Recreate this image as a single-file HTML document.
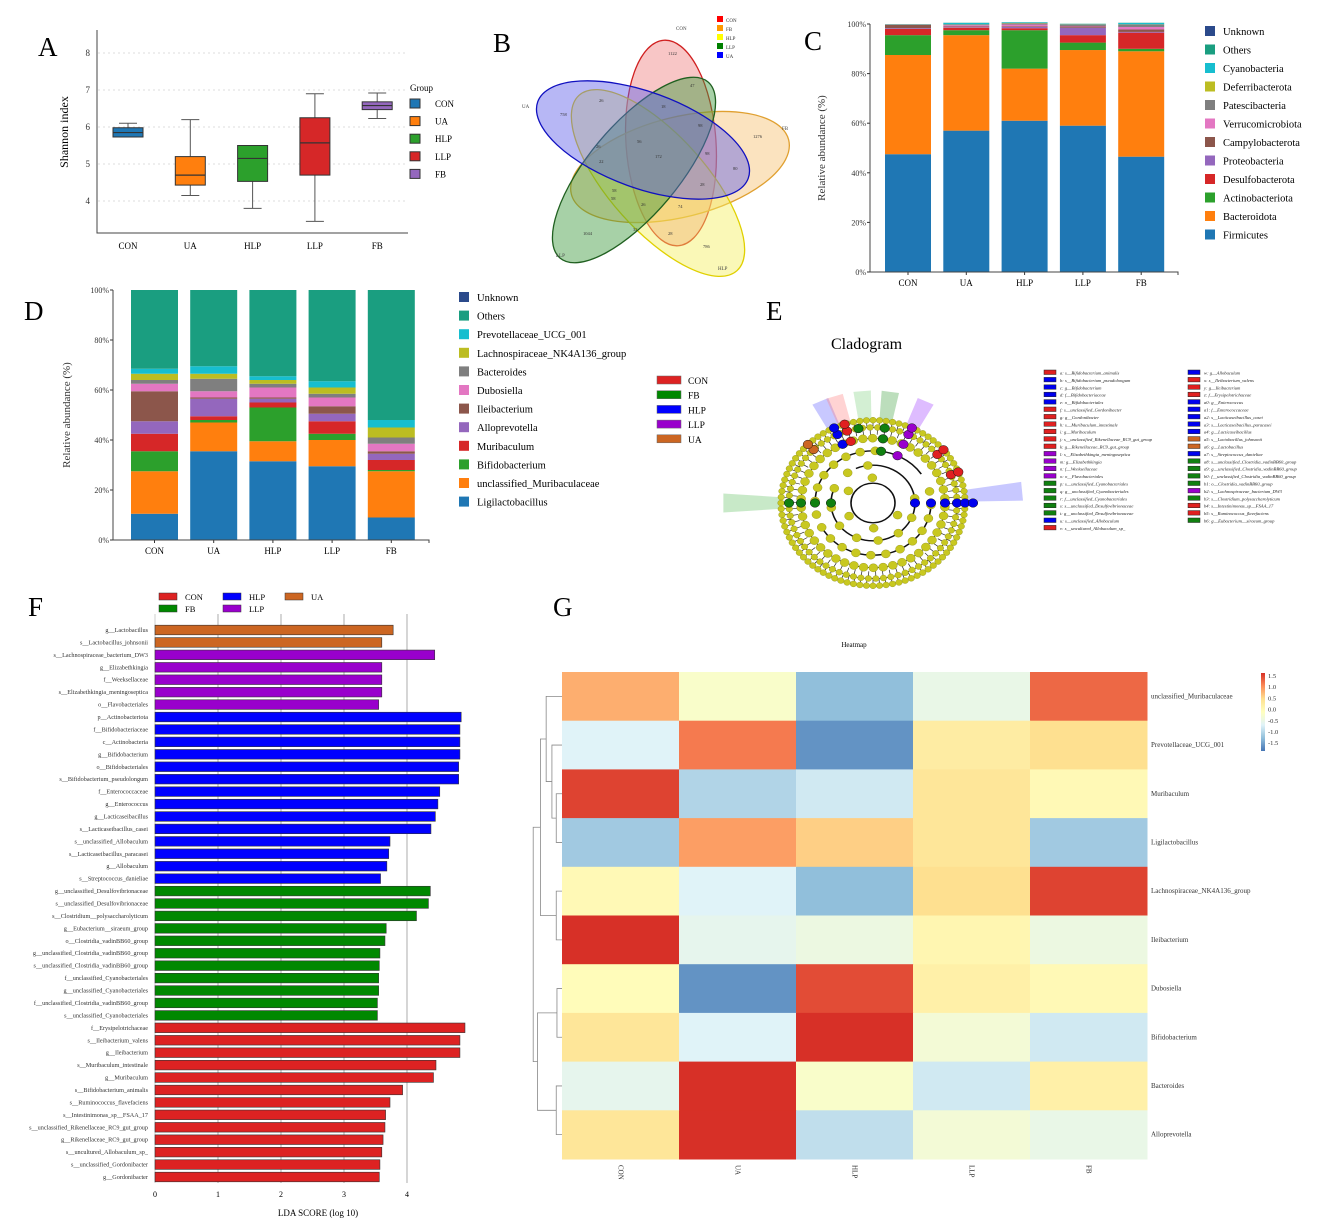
<!DOCTYPE html>
<html><head><meta charset="utf-8">
<style>
html,body{margin:0;padding:0;background:#fff;}
svg{display:block;font-family:"Liberation Serif",serif;}
</style></head>
<body>
<svg id="fig" width="1325" height="1229" viewBox="0 0 1325 1229" xmlns="http://www.w3.org/2000/svg">
<rect width="1325" height="1229" fill="#fff"/>
<g font-size="27" fill="#000">
<text x="38" y="56">A</text>
<text x="493" y="52">B</text>
<text x="804" y="50">C</text>
<text x="24" y="320">D</text>
<text x="766" y="320">E</text>
<text x="28" y="616">F</text>
<text x="553" y="616">G</text>
</g>
<g id="pA"></g>
<g id="pB"></g>
<g id="pC"></g>
<g id="pD"></g>
<g id="pE"></g>
<g id="pF"></g>
<g id="pG"></g>
</svg>
<script>
const NS="http://www.w3.org/2000/svg";
function mk(parent,tag,attrs,txt){const e=document.createElementNS(NS,tag);for(const k in attrs)e.setAttribute(k,attrs[k]);if(txt!==undefined)e.textContent=txt;parent.appendChild(e);return e;}

/* ---------- Panel A data ---------- */
const aGroups=["CON","UA","HLP","LLP","FB"];
const aMin=[5.73,4.15,3.8,3.45,6.23];
const aQ1=[5.73,4.43,4.53,4.7,6.47];
const aMed=[5.85,4.7,5.15,5.57,6.58];
const aQ3=[5.98,5.2,5.5,6.25,6.68];
const aMax=[6.1,6.2,5.5,6.9,6.92];
const aTicks=[4,5,6,7,8];
const gColors=["#1f77b4","#ff7f0e","#2ca02c","#d62728","#9467bd"];
(function(){
 const g=document.getElementById("pA");
 const y=v=>201-(v-4)*37, x=i=>128+i*62.3;
 aTicks.forEach(t=>{
  const l=mk(g,"line",{x1:98,x2:408,y1:y(t),y2:y(t),stroke:"#ddd","stroke-dasharray":"2,3"});
  
  
  const tt=mk(g,"text",{x:90,y:y(t)+3,"font-size":9,"text-anchor":"end",fill:"#333"},t);
  
  
 });
 const ax=mk(g,"path",{d:"M97,30 V233 H408",fill:"none",stroke:"#444","stroke-width":1});
 
 
 const yl=mk(g,"text",{transform:"translate(68,132) rotate(-90)","text-anchor":"middle","font-size":12},"Shannon index");
 
 
 aGroups.forEach((n,i)=>{
  const cx=x(i);
  const w=mk(g,"line",{x1:cx,x2:cx,y1:y(aMax[i]),y2:y(aMin[i]),stroke:"#555"});
  
  
  [aMax[i],aMin[i]].forEach(v=>{const c=mk(g,"line",{x1:cx-9,x2:cx+9,y1:y(v),y2:y(v),stroke:"#555"});
   
   });
  const b=mk(g,"rect",{x:cx-15,y:y(aQ3[i]),width:30,height:y(aQ1[i])-y(aQ3[i]),fill:gColors[i],stroke:"#333"});
  
  
  const m=mk(g,"line",{x1:cx-15,x2:cx+15,y1:y(aMed[i]),y2:y(aMed[i]),stroke:"#333","stroke-width":1.2});
  
  
  const tl=mk(g,"text",{x:cx,y:249,"text-anchor":"middle","font-size":9},n);
  
  
  const ls=mk(g,"rect",{x:410,y:99+i*17.6,width:10,height:9,fill:gColors[i],stroke:"#333"});
  
  
  const lt=mk(g,"text",{x:435,y:107+i*17.6,"font-size":9},n);
  
  
 });
 const gt=mk(g,"text",{x:410,y:91,"font-size":9},"Group");
 
 
})();

/* ---------- Panel B venn ---------- */
const vNames=["CON","FB","HLP","LLP","UA"];
const vColors=["#ff0000","#ff9900","#ffff00","#008000","#0000ff"];
const vUnique=[1122,1276,786,1044,758];
(function(){
 const g=document.getElementById("pB");
 const ells=[
  {cx:671,cy:143,rx:45,ry:103,rot:-4,c:"#f08080",s:"#d02020",i:0},
  {cx:680,cy:167,rx:112,ry:50,rot:-14,c:"#f6c070",s:"#e0a030",i:1},
  {cx:658,cy:183,rx:118,ry:48,rot:48,c:"#f4f060",s:"#e0d000",i:2},
  {cx:634,cy:170,rx:45,ry:115,rot:40,c:"#3c9a3c",s:"#206020",i:3},
  {cx:643,cy:140,rx:112,ry:48,rot:20,c:"#6060e8",s:"#1010c0",i:4}];
 ells.forEach(e=>{
  const el=mk(g,"ellipse",{cx:e.cx,cy:e.cy,rx:e.rx,ry:e.ry,transform:`rotate(${e.rot} ${e.cx} ${e.cy})`,fill:e.c,"fill-opacity":0.45,stroke:e.s,"stroke-width":1.3});
  
  
 });
 const lab=[["CON",676,30],["FB",782,130],["HLP",718,270],["LLP",556,257],["UA",522,108]];
 lab.forEach(l=>{const t=mk(g,"text",{x:l[1],y:l[2],"font-size":5,fill:"#444"},l[0]);
  
  });
 const nums=[[vUnique[0],668,55],[vUnique[1],753,138],[vUnige=vUnique[2],703,248],[vUnique[3],583,235],[vUnique[4],560,116],[172,655,158],[26,599,102],[47,690,87],[18,661,108],[98,698,127],[56,637,143],[98,705,155],[28,700,186],[80,733,170],[58,611,200],[58,612,192],[26,641,206],[74,678,208],[28,668,235],[32,633,231],[22,599,163],[26,596,148]];
 nums.forEach(n=>{const t=mk(g,"text",{x:n[1],y:n[2],"font-size":4.5,fill:"#333"},n[0]);
  
  });
 vNames.forEach((n,i)=>{
  const r=mk(g,"rect",{x:717,y:16+i*9,width:6,height:6,fill:vColors[i]});
  
  
  const t=mk(g,"text",{x:726,y:22+i*9,"font-size":5,fill:"#333"},n);
  
  
 });
})();

/* ---------- Panel C data ---------- */
const cSamples=["CON","UA","HLP","LLP","FB"];
const cTaxa=["Firmicutes","Bacteroidota","Actinobacteriota","Desulfobacterota","Proteobacteria","Campylobacterota","Verrucomicrobiota","Patescibacteria","Deferribacterota","Cyanobacteria","Others","Unknown"];
const cColors=["#1f77b4","#ff7f0e","#2ca02c","#d62728","#9467bd","#8c564b","#e377c2","#7f7f7f","#bcbd22","#17becf","#1a9e80","#2b4a8b"];
const cFirm=[47.5,57,61,59,46.5];
const cBact=[40,38.5,21,30.5,42.5];
const cActi=[8,2,15.5,3,1];
const cDesu=[2.5,1,0.8,3,6.5];
const cProt=[0.3,0.2,0.5,3,0.3];
const cCamp=[1.3,0.3,0.3,0.5,1];
const cVerr=[0.1,0.5,0.7,0.2,1];
const cPate=[0.1,0.3,0.5,0.6,1];
const cDefe=[0.05,0.1,0.1,0.1,0.1];
const cCyan=[0.05,0.5,0.2,0.1,0.5];
const cOthe=[0.1,0.1,0.1,0.1,0.1];
const cUnkn=[0,0,0,0,0];
const cTicks=[0,20,40,60,80,100];
/* ---------- Panel D data ---------- */
const dSamples=["CON","UA","HLP","LLP","FB"];
const dTaxa=["Ligilactobacillus","unclassified_Muribaculaceae","Bifidobacterium","Muribaculum","Alloprevotella","Ileibacterium","Dubosiella","Bacteroides","Lachnospiraceae_NK4A136_group","Prevotellaceae_UCG_001","Others","Unknown"];
const dLigi=[10.5,35.5,31.5,29.5,9];
const dUncM=[17,11.5,8,10.5,18.5];
const dBifi=[8,1,13.5,2.5,0.5];
const dMuri=[7,1.5,2,5,4];
const dAllo=[5,7,1.5,3,2.5];
const dIlei=[12,0.5,0.5,3,1];
const dDubo=[3,2.5,4,3.5,3];
const dBact=[1.5,5,1.5,1.5,2.5];
const dLach=[2.5,2,1.5,2.5,4];
const dPrev=[2,3,1.5,2.5,3];
const dOthe=[31.5,30.5,34.5,36.5,52];
const dUnkn=[0,0,0,0,0];

function stacked(gid,samples,taxa,series,opt){
 const g=document.getElementById(gid);
 const y=v=>opt.y0-v*(opt.y0-opt.y100)/100;
 cTicks.forEach(t=>{
  const tk=mk(g,"line",{x1:opt.ax-3,x2:opt.ax,y1:y(t),y2:y(t),stroke:"#333"});
  
  
  const tl=mk(g,"text",{x:opt.ax-4,y:y(t)+3,"text-anchor":"end","font-size":8,fill:"#333"},t+"%");
  
  
 });
 samples.forEach((s,i)=>{
  let acc=0;const x=opt.x0+i*opt.step;
  series.forEach((arr,k)=>{
   const v=arr[i];
   const r=mk(g,"rect",{x:x,y:y(acc+v),width:opt.bw,height:Math.max(0,y(acc)-y(acc+v)),fill:cColors[k]});
   
   
   acc+=v;
  });
  const tl=mk(g,"text",{x:x+opt.bw/2,y:opt.y0+14,"text-anchor":"middle","font-size":9},s);
  
  
  const tm=mk(g,"line",{x1:x+opt.bw/2,x2:x+opt.bw/2,y1:opt.y0,y2:opt.y0+3,stroke:"#333"});
  
  
 });
 const ax=mk(g,"path",{d:`M${opt.ax},${opt.y100} V${opt.y0} H${opt.axEnd} v3`,fill:"none",stroke:"#444"});
 
 
 const yt=mk(g,"text",{transform:`translate(${opt.ytx},${(opt.y0+opt.y100)/2}) rotate(-90)`,"text-anchor":"middle","font-size":11,fill:"#333"},"Relative abundance (%)");
 
 
 for(let k=taxa.length-1;k>=0;k--){
  const row=taxa.length-1-k;
  const sw=mk(g,"rect",{x:opt.lx,y:opt.ly+row*opt.lstep-5,width:10,height:10,fill:cColors[k]});
  
  
  const lt=mk(g,"text",{x:opt.lx+18,y:opt.ly+row*opt.lstep+4,"font-size":opt.lfs},taxa[k]);
  
  
 }
}
stacked("pC",cSamples,cTaxa,[cFirm,cBact,cActi,cDesu,cProt,cCamp,cVerr,cPate,cDefe,cCyan,cOthe,cUnkn],
 {y0:272,y100:24,x0:885,step:58.3,bw:46,ax:870,axEnd:1178,ytx:825,lx:1205,ly:31,lstep:18.5,lfs:10.5});
stacked("pD",dSamples,dTaxa,[dLigi,dUncM,dBifi,dMuri,dAllo,dIlei,dDubo,dBact,dLach,dPrev,dOthe,dUnkn],
 {y0:540,y100:290,x0:131,step:59.2,bw:47,ax:113,axEnd:429,ytx:70,lx:459,ly:297,lstep:18.6,lfs:10.5});
(function(){
 const g=document.getElementById("pD");
 const gn=["CON","FB","HLP","LLP","UA"], gc=["#dd2222","#008800","#0000ff","#9900cc","#cc6622"];
 gn.forEach((n,i)=>{
  const r=mk(g,"rect",{x:657,y:376+i*14.7,width:24,height:8,fill:gc[i],stroke:"#666","stroke-width":0.5});
  
  
  const t=mk(g,"text",{x:688,y:384+i*14.7,"font-size":9.5},n);
  
  
 });
})();

/* ---------- Panel E cladogram ---------- */
const eLeft=["a: s__Bifidobacterium_animalis","b: s__Bifidobacterium_pseudolongum","c: g__Bifidobacterium","d: f__Bifidobacteriaceae","e: o__Bifidobacteriales","f: s__unclassified_Gordonibacter","g: g__Gordonibacter","h: s__Muribaculum_intestinale","i: g__Muribaculum","j: s__unclassified_Rikenellaceae_RC9_gut_group","k: g__Rikenellaceae_RC9_gut_group","l: s__Elizabethkingia_meningoseptica","m: g__Elizabethkingia","n: f__Weeksellaceae","o: o__Flavobacteriales","p: s__unclassified_Cyanobacteriales","q: g__unclassified_Cyanobacteriales","r: f__unclassified_Cyanobacteriales","s: s__unclassified_Desulfovibrionaceae","t: g__unclassified_Desulfovibrionaceae","u: s__unclassified_Allobaculum","v: s__uncultured_Allobaculum_sp_"];
const eLeftC=["r","b","b","b","b","r","r","r","r","r","r","p","p","p","p","g","g","g","g","g","b","r"];
const eRight=["w: g__Allobaculum","x: s__Ileibacterium_valens","y: g__Ileibacterium","z: f__Erysipelotrichaceae","a0: g__Enterococcus","a1: f__Enterococcaceae","a2: s__Lacticaseibacillus_casei","a3: s__Lacticaseibacillus_paracasei","a4: g__Lacticaseibacillus","a5: s__Lactobacillus_johnsonii","a6: g__Lactobacillus","a7: s__Streptococcus_danieliae","a8: s__unclassified_Clostridia_vadinBB60_group","a9: g__unclassified_Clostridia_vadinBB60_group","b0: f__unclassified_Clostridia_vadinBB60_group","b1: o__Clostridia_vadinBB60_group","b2: s__Lachnospiraceae_bacterium_DW3","b3: s__Clostridium_polysaccharolyticum","b4: s__Intestinimonas_sp__FSAA_17","b5: s__Ruminococcus_flavefaciens","b6: g__Eubacterium__siraeum_group"];
const eRightC=["b","r","r","r","b","b","b","b","b","o","o","b","g","g","g","g","p","g","r","r","g"];
(function(){
 const g=document.getElementById("pE");
 const cm={r:"#e02020",b:"#0000ee",g:"#108010",p:"#9900cc",o:"#cc6622"};
 const t=mk(g,"text",{x:831,y:349,"font-size":16},"Cladogram");
 
 
 const cx=873,cy=503;
 const cl=mk(g,"g",{transform:`translate(${cx},${cy}) scale(1,0.9)`});
 
 
 // highlight sectors
 const hs=[[-115,"#6060ff"],[-108,"#ff8080"],[-95,"#80d080"],[-82,"#40a040"],[-65,"#a040ff"],[-5,"#6060ff"],[180,"#60c060"]];
 hs.forEach(h=>{const a=h[0]*Math.PI/180,w=0.07;
  const r1=92,r2=h[0]==-5||h[0]==180?150:125;
  const p=`M${r1*Math.cos(a-w)},${r1*Math.sin(a-w)} L${r2*Math.cos(a-w)},${r2*Math.sin(a-w)} L${r2*Math.cos(a+w)},${r2*Math.sin(a+w)} L${r1*Math.cos(a+w)},${r1*Math.sin(a+w)}Z`;
  const s=mk(cl,"path",{d:p,fill:h[1],"fill-opacity":0.35});
  
  });
 [22,42,58,72,84].forEach((r,i)=>{
  const c=mk(cl,"circle",{cx:0,cy:0,r:r,fill:"none",stroke:"#111","stroke-width":i<3?1.6:0.8,"stroke-dasharray":i<3?"150,30":"none"});
  
  });
 const rings=[[92,88],[84,70],[72,46],[58,24],[42,12],[28,6]];
 rings.forEach((rg,ri)=>{
  for(let k=0;k<rg[1];k++){
   const a=(k/rg[1])*2*Math.PI+ri*0.1;
   if(ri>=3 && Math.sin(a)<-0.3 && Math.cos(a)>0.2) continue;
   const x=rg[0]*Math.cos(a),y=rg[0]*Math.sin(a);
   if(ri<2){const ln=mk(cl,"line",{x1:x,y1:y,x2:(rg[0]-8)*Math.cos(a),y2:(rg[0]-8)*Math.sin(a),stroke:"#222","stroke-width":0.7});
    
    }
   const n=mk(cl,"circle",{cx:x,cy:y,r:ri<2?3.3:4.5,fill:"#c8c820",stroke:"#8a8a10","stroke-width":0.4});
   
   
  }});
 const hl=[[0,[42,58,72,84,92,100],"#0000ee"],[180,[42,58,72,84],"#108010"],[-115,[72,84,92],"#0000ee"],[-108,[72,84,92],"#e02020"],[-82,[58,72,84],"#108010"],[-65,[58,72,84,92],"#9900cc"],[-40,[84,92],"#e02020"],[-22,[84,92],"#e02020"],[-135,[84,92],"#cc6622"],[-100,[84],"#108010"]];
 hl.forEach(h=>{const a=h[0]*Math.PI/180;h[1].forEach(r=>{
  const n=mk(cl,"circle",{cx:r*Math.cos(a),cy:r*Math.sin(a),r:4.8,fill:h[2],stroke:"#111","stroke-width":0.5});
  
  });});
 function leg(list,cols,x0){
  list.forEach((s,i)=>{
   const r=mk(g,"rect",{x:x0,y:370+i*7.4,width:12,height:4.5,fill:cm[cols[i]],stroke:"#222","stroke-width":0.5});
   
   
   const tx=mk(g,"text",{x:x0+16,y:374.5+i*7.4,"font-size":4.6,"font-style":"italic",fill:"#222"},s);
   
   
  });}
 leg(eLeft,eLeftC,1044); leg(eRight,eRightC,1188);
})();

/* ---------- Panel F LDA ---------- */
const fNames=["g__Lactobacillus","s__Lactobacillus_johnsonii","s__Lachnospiraceae_bacterium_DW3","g__Elizabethkingia","f__Weeksellaceae","s__Elizabethkingia_meningoseptica","o__Flavobacteriales","p__Actinobacteriota","f__Bifidobacteriaceae","c__Actinobacteria","g__Bifidobacterium","o__Bifidobacteriales","s__Bifidobacterium_pseudolongum","f__Enterococcaceae","g__Enterococcus","g__Lacticaseibacillus","s__Lacticaseibacillus_casei","s__unclassified_Allobaculum","s__Lacticaseibacillus_paracasei","g__Allobaculum","s__Streptococcus_danieliae","g__unclassified_Desulfovibrionaceae","s__unclassified_Desulfovibrionaceae","s__Clostridium__polysaccharolyticum","g__Eubacterium__siraeum_group","o__Clostridia_vadinBB60_group","g__unclassified_Clostridia_vadinBB60_group","s__unclassified_Clostridia_vadinBB60_group","f__unclassified_Cyanobacteriales","g__unclassified_Cyanobacteriales","f__unclassified_Clostridia_vadinBB60_group","s__unclassified_Cyanobacteriales","f__Erysipelotrichaceae","s__Ileibacterium_valens","g__Ileibacterium","s__Muribaculum_intestinale","g__Muribaculum","s__Bifidobacterium_animalis","s__Ruminococcus_flavefaciens","s__Intestinimonas_sp__FSAA_17","s__unclassified_Rikenellaceae_RC9_gut_group","g__Rikenellaceae_RC9_gut_group","s__uncultured_Allobaculum_sp_","s__unclassified_Gordonibacter","g__Gordonibacter"];
const fScores=[3.78,3.6,4.44,3.6,3.6,3.6,3.55,4.86,4.84,4.84,4.84,4.82,4.82,4.52,4.49,4.45,4.38,3.73,3.71,3.68,3.58,4.37,4.34,4.15,3.67,3.65,3.57,3.56,3.55,3.55,3.53,3.53,4.92,4.84,4.84,4.46,4.42,3.93,3.73,3.66,3.65,3.62,3.6,3.57,3.56];
const fGroups=["UA","UA","LLP","LLP","LLP","LLP","LLP","HLP","HLP","HLP","HLP","HLP","HLP","HLP","HLP","HLP","HLP","HLP","HLP","HLP","HLP","FB","FB","FB","FB","FB","FB","FB","FB","FB","FB","FB","CON","CON","CON","CON","CON","CON","CON","CON","CON","CON","CON","CON","CON"];
const fTicks=[0,1,2,3,4];
(function(){
 const g=document.getElementById("pF");
 const gc={CON:"#dd2222",FB:"#008800",HLP:"#0000ff",LLP:"#9900cc",UA:"#cc6622"};
 const x=v=>155+v*63;
 const y0=630,step=(1177-630)/(fNames.length-1);
 fTicks.forEach(t=>{
  const l=mk(g,"line",{x1:x(t),x2:x(t),y1:614,y2:1183,stroke:t?"#888":"#bbb","stroke-width":0.7});
  
  
  const tl=mk(g,"text",{x:x(t),y:1197,"text-anchor":"middle","font-size":8},t);
  
  
 });
 fNames.forEach((n,i)=>{
  const cy=y0+i*step;
  const b=mk(g,"rect",{x:x(0),y:cy-4.8,width:x(fScores[i])-x(0),height:9.6,fill:gc[fGroups[i]],stroke:"#333","stroke-width":0.6});
  
  
  const t=mk(g,"text",{x:148,y:cy+2,"text-anchor":"end","font-size":6.2,fill:"#333"},n);
  
  
 });
 const at=mk(g,"text",{x:318,y:1216,"text-anchor":"middle","font-size":9},"LDA SCORE (log 10)");
 
 
 const lg=[["CON",159,597],["FB",159,609],["HLP",223,597],["LLP",223,609],["UA",285,597]];
 lg.forEach(l=>{
  const r=mk(g,"rect",{x:l[1],y:l[2]-4,width:18,height:7,fill:gc[l[0]],stroke:"#333","stroke-width":0.5});
  
  
  const t=mk(g,"text",{x:l[1]+26,y:l[2]+3,"font-size":8.5},l[0]);
  
  
 });
})();

/* ---------- Panel G heatmap ---------- */
const hRows=["unclassified_Muribaculaceae","Prevotellaceae_UCG_001","Muribaculum","Ligilactobacillus","Lachnospiraceae_NK4A136_group","Ileibacterium","Dubosiella","Bifidobacterium","Bacteroides","Alloprevotella"];
const hCols=["CON","UA","HLP","LLP","FB"];
const hZ=[[0.8,-0.1,-1.0,-0.35,1.2],[-0.5,1.1,-1.3,0.3,0.5],[1.4,-0.8,-0.6,0.4,0.1],[-0.9,0.9,0.6,0.4,-0.9],[0.1,-0.5,-1.0,0.5,1.4],[1.7,-0.4,-0.3,0.15,-0.3],[0.05,-1.3,1.35,0.25,0.1],[0.4,-0.5,1.5,-0.2,-0.6],[-0.4,1.7,-0.1,-0.6,0.25],[0.4,1.55,-0.7,-0.2,-0.35]];
const hScaleTicks=[1.5,1.0,0.5,0.0,-0.5,-1.0,-1.5];
const hTree=[40,[30,[22,0,[14,1,[8,2,3]]],[8,4,5]],[34,[7,6,7],[8,8,9]]];
(function(){
 const g=document.getElementById("pG");
 const stops=[[-1.5,[69,117,180]],[-1,[145,191,219]],[-0.5,[224,243,248]],[0,[255,255,191]],[0.5,[254,224,144]],[1,[252,141,89]],[1.5,[215,48,39]]];
 function col(v){v=Math.max(-1.5,Math.min(1.5,v));for(let i=0;i<stops.length-1;i++){const a=stops[i],b=stops[i+1];if(v<=b[0]){const t=(v-a[0])/(b[0]-a[0]);return "rgb("+a[1].map((c,k)=>Math.round(c+(b[1][k]-c)*t)).join(",")+")";}}return "rgb(215,48,39)";}
 const x0=562,y0=672,cw=117,rh=48.7;
 const tt=mk(g,"text",{x:854,y:647,"text-anchor":"middle","font-size":7},"Heatmap");
 
 
 hZ.forEach((row,r)=>{row.forEach((v,c)=>{
  const e=mk(g,"rect",{x:x0+c*cw,y:y0+r*rh,width:cw+0.5,height:rh+0.5,fill:col(v)});
  
  });
  const t=mk(g,"text",{x:1151,y:y0+r*rh+rh/2+2,"font-size":7,fill:"#333"},hRows[r]);
  
  });
 hCols.forEach((c,i)=>{const cx=x0+i*cw+cw/2;
  const t=mk(g,"text",{transform:`translate(${cx-2},1165) rotate(90)`,"font-size":7,fill:"#333"},c);
  
  });
 function draw(n){
  if(typeof n==="number") return {x:x0,y:y0+n*rh+rh/2};
  const a=draw(n[1]),b=draw(n[2]);const x=x0-n[0]*0.72;
  const p=mk(g,"path",{d:`M${a.x},${a.y} H${x} V${b.y} H${b.x}`,fill:"none",stroke:"#888","stroke-width":0.8});
  
  
  return {x:x,y:(a.y+b.y)/2};
 }
 draw(hTree);
 const gr=mk(g,"defs",{});
 const lgd=mk(gr,"linearGradient",{id:"hg",x1:0,y1:1,x2:0,y2:0});
 stops.forEach((s,i)=>mk(lgd,"stop",{offset:i/6,"stop-color":col(s[0])}));
 const cb=mk(g,"rect",{x:1261,y:673,width:4,height:78,fill:"url(#hg)"});
 
 
 hScaleTicks.forEach((t,i)=>{
  const tx=mk(g,"text",{x:1268,y:678+i*11.2,"font-size":6.5,fill:"#333"},t.toFixed(1));
  
  });
})();
</script>
</body></html>
